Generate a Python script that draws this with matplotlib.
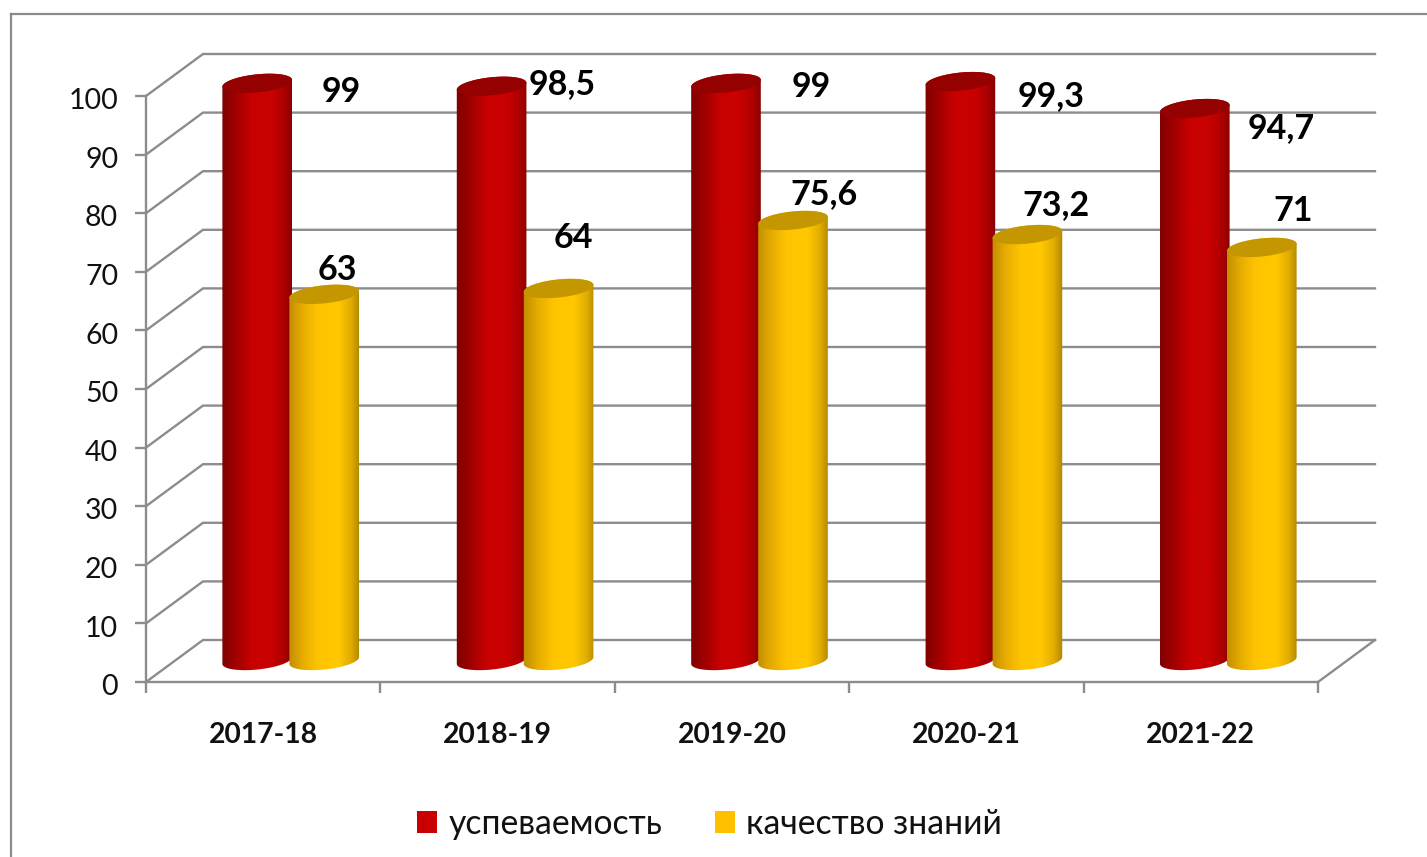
import numpy as np
import matplotlib
matplotlib.use("Agg")
import matplotlib.pyplot as plt
from matplotlib.colors import LinearSegmentedColormap
from matplotlib.patches import Polygon, Patch
from matplotlib.lines import Line2D
from matplotlib.transforms import ScaledTranslation

# ---- data ----
categories = ["2017-18", "2018-19", "2019-20", "2020-21", "2021-22"]
uspevaemost = [99, 98.5, 99, 99.3, 94.7]
kachestvo = [63, 64, 75.6, 73.2, 71]
series_names = ["успеваемость", "качество знаний"]
y_ticks = list(range(0, 101, 10))

# ---- label placement (pixels from bar top, y up) ----
red_label_offsets = [(84, -8.6), (70.6, 2.3), (85, -3.6), (91, -14.4), (86, -19.4)]
gold_label_offsets = [(13, 24), (15, 50), (31, 26.5), (29, 29.5), (31, 36.5)]

W, H = 1427, 857
DPI = 100
plt.rcParams["font.family"] = ["Lato", "Open Sans", "DejaVu Sans"]
fig = plt.figure(figsize=(W / DPI, H / DPI), dpi=DPI, facecolor="white")
L, R, T, B = 146, 1318, 96, 682
ax = fig.add_axes([L / W, 1 - B / H, (R - L) / W, (B - T) / H])
ax.patch.set_visible(False)
ax.set_xlim(-0.5, 4.5)
ax.set_ylim(0, 100)

PX_X = 5 / (R - L)      # data units per pixel, x
PX_Y = 100 / (B - T)    # data units per pixel, y
GRAY = "#8c8c8c"
LW = 1.7

# frame of the chart area
fig.add_artist(Line2D([11 / W, 11 / W], [-0.01, 1 - 14 / H], color="#8a8a8a", lw=1.6))
fig.add_artist(Line2D([11 / W, 1.01], [1 - 14 / H, 1 - 14 / H], color="#8a8a8a", lw=1.6))

# walls
DEPTH_X, DEPTH_Y = 57 * PX_X, 42 * PX_Y
for v in y_ticks:
    ax.plot([-0.5, -0.5 + DEPTH_X, 4.5 + DEPTH_X], [v, v + DEPTH_Y, v + DEPTH_Y],
            color=GRAY, lw=LW, clip_on=False, zorder=1, solid_joinstyle="miter")
ax.plot([4.5, 4.5 + DEPTH_X], [0, DEPTH_Y], color=GRAY, lw=LW, clip_on=False, zorder=1)

# axes
for s in ("top", "right"):
    ax.spines[s].set_visible(False)
for s in ("left", "bottom"):
    ax.spines[s].set_color(GRAY)
    ax.spines[s].set_linewidth(LW)
ax.set_yticks(y_ticks)
ax.set_yticklabels([str(v) for v in y_ticks], fontsize=20.5, color="#111111")
ax.tick_params(axis="y", length=8, width=LW, color=GRAY, pad=12)
shift = ScaledTranslation(0, -2 / 72, fig.dpi_scale_trans)
for lab in ax.get_yticklabels():
    lab.set_transform(lab.get_transform() + shift)
ax.set_xticks(np.arange(-0.5, 5, 1))
ax.set_xticklabels([])
ax.tick_params(axis="x", which="major", length=8, width=LW, color=GRAY)
ax.set_xticks(range(5), minor=True)
ax.set_xticklabels(categories, minor=True, fontsize=20.3, fontweight="bold", color="#111111")
ax.tick_params(axis="x", which="minor", length=0, pad=29)

# cylinders
A, BB, TILT = 35, 9, np.radians(6)
BASE = 18.5 * PX_Y
FOOT = 21.5 * PX_Y


def ell(cx, cy, t):
    px = A * np.cos(t) * np.cos(TILT) - BB * np.sin(t) * np.sin(TILT)
    py = A * np.cos(t) * np.sin(TILT) + BB * np.sin(t) * np.cos(TILT)
    return np.column_stack([cx + px * PX_X, cy + py * PX_Y])


def cylinder(x, v, cmap, top_color, z):
    top = v + BASE
    t_low = np.linspace(np.pi, 2 * np.pi, 80)
    t_up = np.linspace(0, np.pi, 80)
    body = np.vstack([ell(x, FOOT, t_low), ell(x, top, t_up)])
    grad = np.linspace(0, 1, 256).reshape(1, -1)
    im = ax.imshow(grad, cmap=cmap, aspect="auto", interpolation="bilinear", zorder=z,
                   extent=[x - 36 * PX_X, x + 36 * PX_X, 0, top + 15 * PX_Y])
    clip = Polygon(body, closed=True, transform=ax.transData, fill=False, lw=0)
    ax.add_patch(clip)
    im.set_clip_path(clip)
    im.set_clip_box(fig.bbox)
    ax.add_patch(Polygon(ell(x, top, np.linspace(0, 2 * np.pi, 160)), closed=True,
                         fc=top_color, ec="none", clip_on=False, zorder=z + 0.1))


red_cm = LinearSegmentedColormap.from_list("r", [(0, "#7d0000"), (0.2, "#a00000"), (0.42, "#c80000"),
                                                 (0.7, "#c80000"), (0.88, "#ac0000"), (1, "#860000")])
gold_cm = LinearSegmentedColormap.from_list("g", [(0, "#c08c00"), (0.2, "#e6ac00"), (0.42, "#ffc400"),
                                                  (0.7, "#ffc800"), (0.88, "#e0ac00"), (1, "#b08600")])
RED_DX, GOLD_DX = -6 * PX_X + 0, 61 * PX_X

for i, (a, b) in enumerate(zip(uspevaemost, kachestvo)):
    cylinder(i + RED_DX, a, red_cm, "#950000", 3 + i * 0.01)
    cylinder(i + GOLD_DX, b, gold_cm, "#c49600", 4 + i * 0.01)

# value labels
def fmt(v):
    return str(v).replace(".", ",")


for i, (a, b) in enumerate(zip(uspevaemost, kachestvo)):
    for val, dx, off in ((a, RED_DX, red_label_offsets[i]), (b, GOLD_DX, gold_label_offsets[i])):
        ax.annotate(fmt(val), xy=(i + dx, val + BASE),
                    xytext=(off[0] * 72 / DPI, off[1] * 72 / DPI), textcoords="offset points",
                    ha="center", va="center", fontsize=24.5, fontweight="bold",
                    color="black", zorder=10, annotation_clip=False)

ax.set_xlim(-0.5, 4.5)
ax.set_ylim(0, 100)

handles = [Patch(fc="#c80000", ec="none"), Patch(fc="#ffc000", ec="none")]
fig.legend(handles, series_names, loc="center", bbox_to_anchor=(709.5 / W, 1 - 824 / H), ncol=2,
           frameon=False, fontsize=24.3, handlelength=0.6, handleheight=0.6,
           handletextpad=0.33, columnspacing=1.55, labelcolor="#111111")

fig.savefig("out.png", dpi=DPI, facecolor="white")
